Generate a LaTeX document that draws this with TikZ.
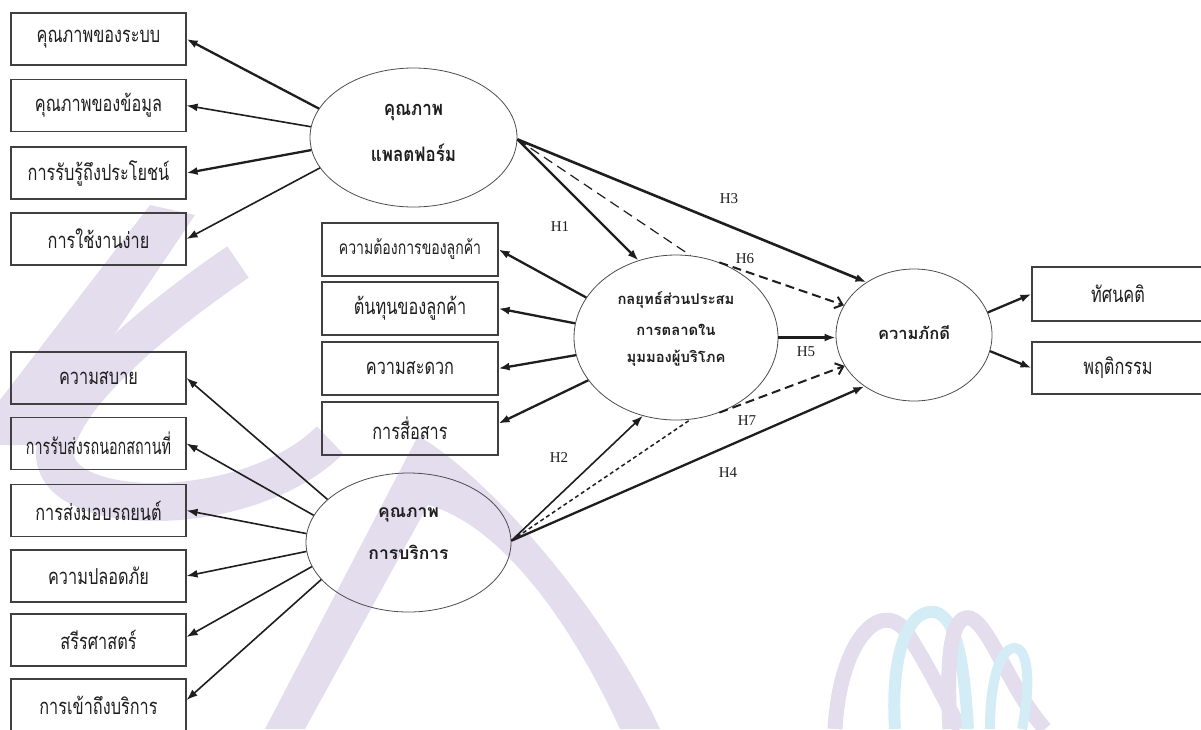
\documentclass[tikz,border=0pt]{standalone}
\usepackage{fontspec}
\setmainfont{Liberation Serif}
\newfontfamily\thaifont[Script=Thai]{Loma}
\newfontfamily\thainarrow[Script=Thai,FakeStretch=0.74]{Loma}
\newfontfamily\thaitall[Script=Thai,FakeStretch=0.85]{Loma}
\usetikzlibrary{arrows.meta,shapes.geometric}

\definecolor{wmlav}{RGB}{227,221,238}
\definecolor{wmblue}{RGB}{212,236,246}
\definecolor{ink}{RGB}{30,30,30}

\tikzset{
  itembox/.style={draw=ink!85, line width=1.1pt, minimum width=175pt,
    minimum height=52pt, inner sep=0pt, text=ink,
    font=\thainarrow\fontsize{22}{22}\selectfont},
  construct/.style={ellipse, draw=black!70, line width=0.8pt, inner sep=0pt},
  plattext/.style={inner sep=0pt, text=ink, font=\thaitall\bfseries\fontsize{20}{20}\selectfont},
  servtext/.style={inner sep=0pt, text=ink, font=\thaifont\bfseries\fontsize{17.5}{17.5}\selectfont},
  midtext/.style={inner sep=0pt, text=ink, font=\thaifont\bfseries\fontsize{14.8}{14.8}\selectfont},
  loyaltext/.style={inner sep=0pt, text=ink, font=\thaifont\bfseries\fontsize{16.5}{16.5}\selectfont},
  link/.style={draw=ink, line width=1.6pt, -{Latex[length=11pt,width=8pt]}},
  heavylink/.style={link, line width=2.3pt},
  medleg/.style={draw=ink, line width=1.2pt, dash pattern=on 10pt off 6pt},
  medlegfine/.style={draw=ink, line width=1.5pt, dash pattern=on 4pt off 3pt},
  medarrow/.style={draw=ink, line width=2pt, dash pattern=on 9pt off 5pt,
    -{Straight Barb[length=7pt,width=12pt]}},
  hyplabel/.style={inner sep=0pt, text=ink, font=\fontsize{15}{15}\selectfont},
  ribbon/.style={line width=#1, line cap=butt},
}

\begin{document}
\begin{tikzpicture}[x=1pt,y=-1pt]
\useasboundingbox (0,0) rectangle (1201,729);
\clip (0,0) rectangle (1201,729);

% ---- faint background emblem ----
\fill[wmlav] (150,205) -- (195,215) -- (40,445) -- (0,445) -- (0,400) -- cycle;
\draw[wmlav, ribbon=38pt] (238,262) .. controls (160,315) and (55,400) .. (55,455)
  .. controls (58,520) and (250,520) .. (330,440);
\fill[wmlav] (265,729) -- (418,436) .. controls (480,470) and (600,600) .. (660,729)
  -- (620,729) .. controls (570,620) and (500,525) .. (428,505) -- (305,729) -- cycle;
% small ribbon mark
\draw[wmlav, ribbon=15pt] (835,729) .. controls (840,640) and (880,600) .. (905,630)
  .. controls (925,660) and (945,700) .. (960,729);
\draw[wmblue, ribbon=12pt] (895,729) .. controls (890,650) and (910,608) .. (935,612)
  .. controls (960,618) and (965,680) .. (968,729);
\draw[wmlav, ribbon=15pt] (950,729) .. controls (945,640) and (955,615) .. (970,618)
  .. controls (990,625) and (1010,690) .. (1045,729);
\draw[wmblue, ribbon=10pt] (990,729) .. controls (990,680) and (1000,648) .. (1015,648)
  .. controls (1030,650) and (1030,690) .. (1022,729);

% ---- indicator boxes ----
\node[itembox] (q1) at (98.5,39)    {คุณภาพของระบบ};
\node[itembox] (q2) at (98.5,105.5) {คุณภาพของข้อมูล};
\node[itembox] (q3) at (98.5,173)   {การรับรู้ถึงประโยชน์};
\node[itembox] (q4) at (98.5,239)   {การใช้งานง่าย};

\node[itembox, minimum width=176pt, minimum height=53pt,
  font=\thainarrow\fontsize{19}{19}\selectfont] (m1) at (410,249.5) {ความต้องการของลูกค้า};
\node[itembox, minimum width=176pt, minimum height=53pt] (m2) at (410,308.5) {ต้นทุนของลูกค้า};
\node[itembox, minimum width=176pt, minimum height=53pt] (m3) at (410,368.5) {ความสะดวก};
\node[itembox, minimum width=176pt, minimum height=53pt] (m4) at (410,428.5) {การสื่อสาร};

\node[itembox] (b1) at (98.5,378)   {ความสบาย};
\node[itembox] (b2) at (98.5,443.5) {\scalebox{0.88}[1]{การรับส่งรถนอกสถานที่}};
\node[itembox] (b3) at (98.5,510.5) {การส่งมอบรถยนต์};
\node[itembox] (b4) at (98.5,576)   {ความปลอดภัย};
\node[itembox] (b5) at (98.5,640)   {สรีรศาสตร์};
\node[itembox] (b6) at (98.5,705)   {การเข้าถึงบริการ};

\node[itembox, minimum width=172pt, minimum height=54pt] (r1) at (1118,294) {ทัศนคติ};
\node[itembox, minimum width=172pt, minimum height=52pt] (r2) at (1118,368) {พฤติกรรม};

% ---- latent constructs ----
\node[construct, minimum width=207pt, minimum height=139pt] (plat) at (413.5,137.5) {};
\node[plattext] (platA) at (413.5,112) {คุณภาพ};
\node[plattext] (platB) at (413.5,153) {แพลตฟอร์ม};

\node[construct, minimum width=204pt, minimum height=165pt] (mix) at (676,337.5) {};
\node[midtext] (mixA) at (676,300) {กลยุทธ์ส่วนประสม};
\node[midtext] (mixB) at (676,330) {การตลาดใน};
\node[midtext] (mixC) at (676,358) {มุมมองผู้บริโภค};

\node[construct, minimum width=205pt, minimum height=139pt] (serv) at (408.5,542.5) {};
\node[servtext] (servA) at (408.5,515) {คุณภาพ};
\node[servtext] (servB) at (408.5,552) {การบริการ};

\node[construct, minimum width=156pt, minimum height=132pt] (loyal) at (914,335) {};
\node[loyaltext] (loyalA) at (914,333) {ความภักดี};

% ---- measurement arrows ----
\draw[heavylink] (plat.163) -- (q1.east);
\draw[link]      (plat.174) -- (q2.east);
\draw[heavylink] (plat.187) -- (q3.east);
\draw[link]      (plat.198) -- (q4.east);

\draw[heavylink] (mix.156) -- (m1.east);
\draw[heavylink] (mix.172) -- (m2.east);
\draw[heavylink] (mix.190) -- (m3.east);
\draw[heavylink] (mix.206) -- ([yshift=5pt]m4.east);

\draw[link] (serv.152) -- (b1.east);
\draw[link] (serv.164) -- (b2.east);
\draw[link] (serv.175) -- (b3.east);
\draw[link] (serv.185) -- (b4.east);
\draw[link] (serv.194) -- ([yshift=3pt]b5.east);
\draw[link] (serv.203) -- ([yshift=5pt]b6.east);

\draw[heavylink] (loyal.17)  -- (r1.west);
\draw[heavylink] (loyal.348) -- (r2.west);

% ---- structural paths ----
\draw[heavylink] (plat.359) -- (mix.116);
\draw[heavylink, line width=2.6pt] (plat.359) -- (loyal.132);
\draw[heavylink, line width=3pt] (mix.east) -- (mix.east -| loyal.west);
\draw[link] (serv.1) -- (mix.247);
\draw[heavylink] (serv.1) -- (loyal.226);

% mediated paths pass along the mix construct
\draw[medleg] (plat.359) -- (mix.80);
\draw[medarrow] (mix.60) -- (loyal.157);
\draw[medlegfine] (serv.1) -- (mix.280);
\draw[medarrow] (mix.300) -- (loyal.204);

\node[hyplabel] (h1) at (560,227) {H1};
\node[hyplabel] (h3) at (729,199) {H3};
\node[hyplabel] (h6) at (745,259) {H6};
\node[hyplabel] (h5) at (806,352) {H5};
\node[hyplabel] (h7) at (747,421) {H7};
\node[hyplabel] (h2) at (559,458) {H2};
\node[hyplabel] (h4) at (728,473) {H4};
\end{tikzpicture}
\end{document}
